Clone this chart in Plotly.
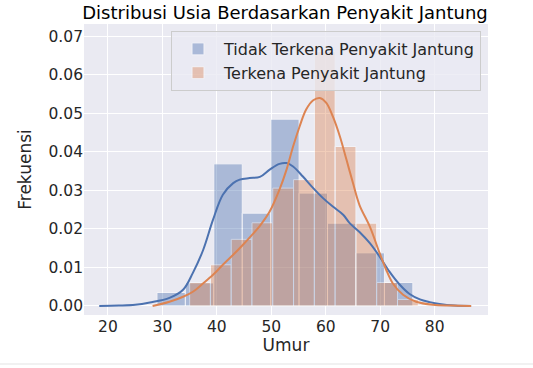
import plotly.graph_objects as go

# ---------------- data ----------------
series_names = ["Tidak Terkena Penyakit Jantung", "Terkena Penyakit Jantung"]

# histogram (density) of age, group without heart disease
tidak_bin_edges = [29.0, 34.22, 39.44, 44.67, 49.89, 55.11, 60.33, 65.56, 70.78, 76.0]
tidak_density = [0.0035, 0.0060, 0.0369, 0.0241, 0.0485, 0.0293, 0.0215, 0.0138, 0.0061]

# histogram (density) of age, group with heart disease
terkena_bin_edges = [35.0, 38.82, 42.64, 46.45, 50.27, 54.09, 57.91, 61.73, 65.55, 69.36, 73.18, 77.0]
terkena_density = [0.0061, 0.0107, 0.0173, 0.0216, 0.0306, 0.0328, 0.0660, 0.0414, 0.0215, 0.0061, 0.0017]

# KDE curves (read point by point)
tidak_kde_x = [18.4, 22.0, 25.0, 27.7, 31.3, 33.8, 35.6, 37.5, 39.3, 41.1, 43.0, 44.2, 46.0,
               47.9, 49.7, 51.5, 52.8, 54.0, 55.8, 57.7, 59.5, 61.3, 63.2, 64.4, 66.2, 68.1,
               69.9, 71.7, 73.6, 75.4, 77.3, 79.1, 80.9, 83.7, 86.7]
tidak_kde_y = [0.0, 0.0001, 0.0003, 0.0009, 0.0021, 0.0042, 0.0086, 0.0146, 0.0224, 0.0289,
               0.0319, 0.0328, 0.0332, 0.0335, 0.0354, 0.0369, 0.0371, 0.0362, 0.0336, 0.0306,
               0.0280, 0.0258, 0.0237, 0.0215, 0.0192, 0.0163, 0.0128, 0.0089, 0.0055, 0.0031,
               0.0017, 0.0010, 0.0005, 0.0001, 0.0]

terkena_kde_x = [28.2, 31.3, 33.8, 35.6, 37.5, 39.3, 41.1, 43.0, 44.8, 46.3, 47.9, 49.7, 51.5,
                 52.8, 54.0, 55.2, 56.4, 57.7, 58.9, 60.1, 61.3, 62.6, 63.8, 65.0, 66.2, 68.1,
                 69.9, 71.1, 72.3, 74.2, 76.6, 79.7, 83.0, 86.7]
terkena_kde_y = [0.0, 0.0011, 0.0024, 0.0037, 0.0059, 0.0081, 0.0107, 0.0133, 0.0159, 0.0182,
                 0.0208, 0.0245, 0.0302, 0.0354, 0.0414, 0.0466, 0.0510, 0.0534, 0.0540, 0.0527,
                 0.0492, 0.0440, 0.0380, 0.0319, 0.0262, 0.0206, 0.0137, 0.0094, 0.0059, 0.0029,
                 0.0011, 0.0003, 0.0001, 0.0]

x_ticks = [20, 30, 40, 50, 60, 70, 80]
y_ticks = [0.00, 0.01, 0.02, 0.03, 0.04, 0.05, 0.06, 0.07]

title_text = "Distribusi Usia Berdasarkan Penyakit Jantung"
x_title = "Umur"
y_title = "Frekuensi"

# ---------------- styling ----------------
BLUE = "#4c72b0"
ORANGE = "#dd8452"
FONT = "DejaVu Sans"
TXT = "#262626"


def centers_widths(edges):
    c = [(a + b) / 2 for a, b in zip(edges[:-1], edges[1:])]
    w = [b - a for a, b in zip(edges[:-1], edges[1:])]
    return c, w


fig = go.Figure()

tc, tw = centers_widths(tidak_bin_edges)
fig.add_trace(go.Bar(x=tc, y=tidak_density, width=tw, name=series_names[0],
                     marker=dict(color=BLUE, line=dict(color="white", width=1)),
                     opacity=0.4, hoverinfo="skip"))
fig.add_trace(go.Scatter(x=tidak_kde_x, y=tidak_kde_y, mode="lines", line_shape="spline",
                         line=dict(color=BLUE, width=2), showlegend=False, hoverinfo="skip"))

kc, kw = centers_widths(terkena_bin_edges)
fig.add_trace(go.Bar(x=kc, y=terkena_density, width=kw, name=series_names[1],
                     marker=dict(color=ORANGE, line=dict(color="white", width=1)),
                     opacity=0.4, hoverinfo="skip"))
fig.add_trace(go.Scatter(x=terkena_kde_x, y=terkena_kde_y, mode="lines", line_shape="spline",
                         line=dict(color=ORANGE, width=2), showlegend=False, hoverinfo="skip"))

W, H = 533, 368
L, T = 84, 24
pw, ph = 404, 291
R, B = W - L - pw, H - T - ph


def sx(px):  # screen x -> paper x
    return (px - L) / pw


def sy(py):  # screen y -> paper y
    return (T + ph - py) / ph


fig.update_layout(
    width=W, height=H,
    margin=dict(l=L, r=R, t=T, b=B, autoexpand=False),
    paper_bgcolor="white",
    plot_bgcolor="#eaeaf2",
    barmode="overlay",
    font=dict(family=FONT, color=TXT, size=15.5),
    title=dict(text=title_text, x=sx(285), xref="paper", xanchor="center",
               y=1 - 12.5 / H, yref="container", yanchor="middle",
               font=dict(family=FONT, size=18, color="black")),
    legend=dict(x=sx(481), xanchor="right", y=sy(31), yanchor="top",
                bgcolor="rgba(234,234,242,0.8)", bordercolor="#cccccc", borderwidth=1,
                font=dict(family=FONT, size=16, color=TXT), itemwidth=42,
                traceorder="normal"),
    xaxis=dict(range=[15.6, 89.8], tickvals=x_ticks, showgrid=True, gridcolor="white",
               gridwidth=1.2, zeroline=False, showline=False, ticks="",
               title=dict(text=x_title, font=dict(size=17, color=TXT), standoff=4),
               tickfont=dict(size=15.5, color=TXT), automargin=False),
    yaxis=dict(range=[-0.00234, 0.0732], tickvals=y_ticks, tickformat=".2f", showgrid=True,
               gridcolor="white", gridwidth=1.2, zeroline=False, showline=False, ticks="",
               title=dict(text=y_title, font=dict(size=17, color=TXT), standoff=12),
               tickfont=dict(size=15.5, color=TXT), automargin=False),
    shapes=[dict(type="line", xref="paper", yref="paper",
                 x0=sx(0), x1=sx(533), y0=sy(364), y1=sy(364),
                 line=dict(color="#e3e3e3", width=1))],
)

# remove the default 8px page margin so the figure sits at the window's top-left corner
fig.write_html("out.html", config={"displayModeBar": False},
               post_script="document.body.style.margin='0px';")
